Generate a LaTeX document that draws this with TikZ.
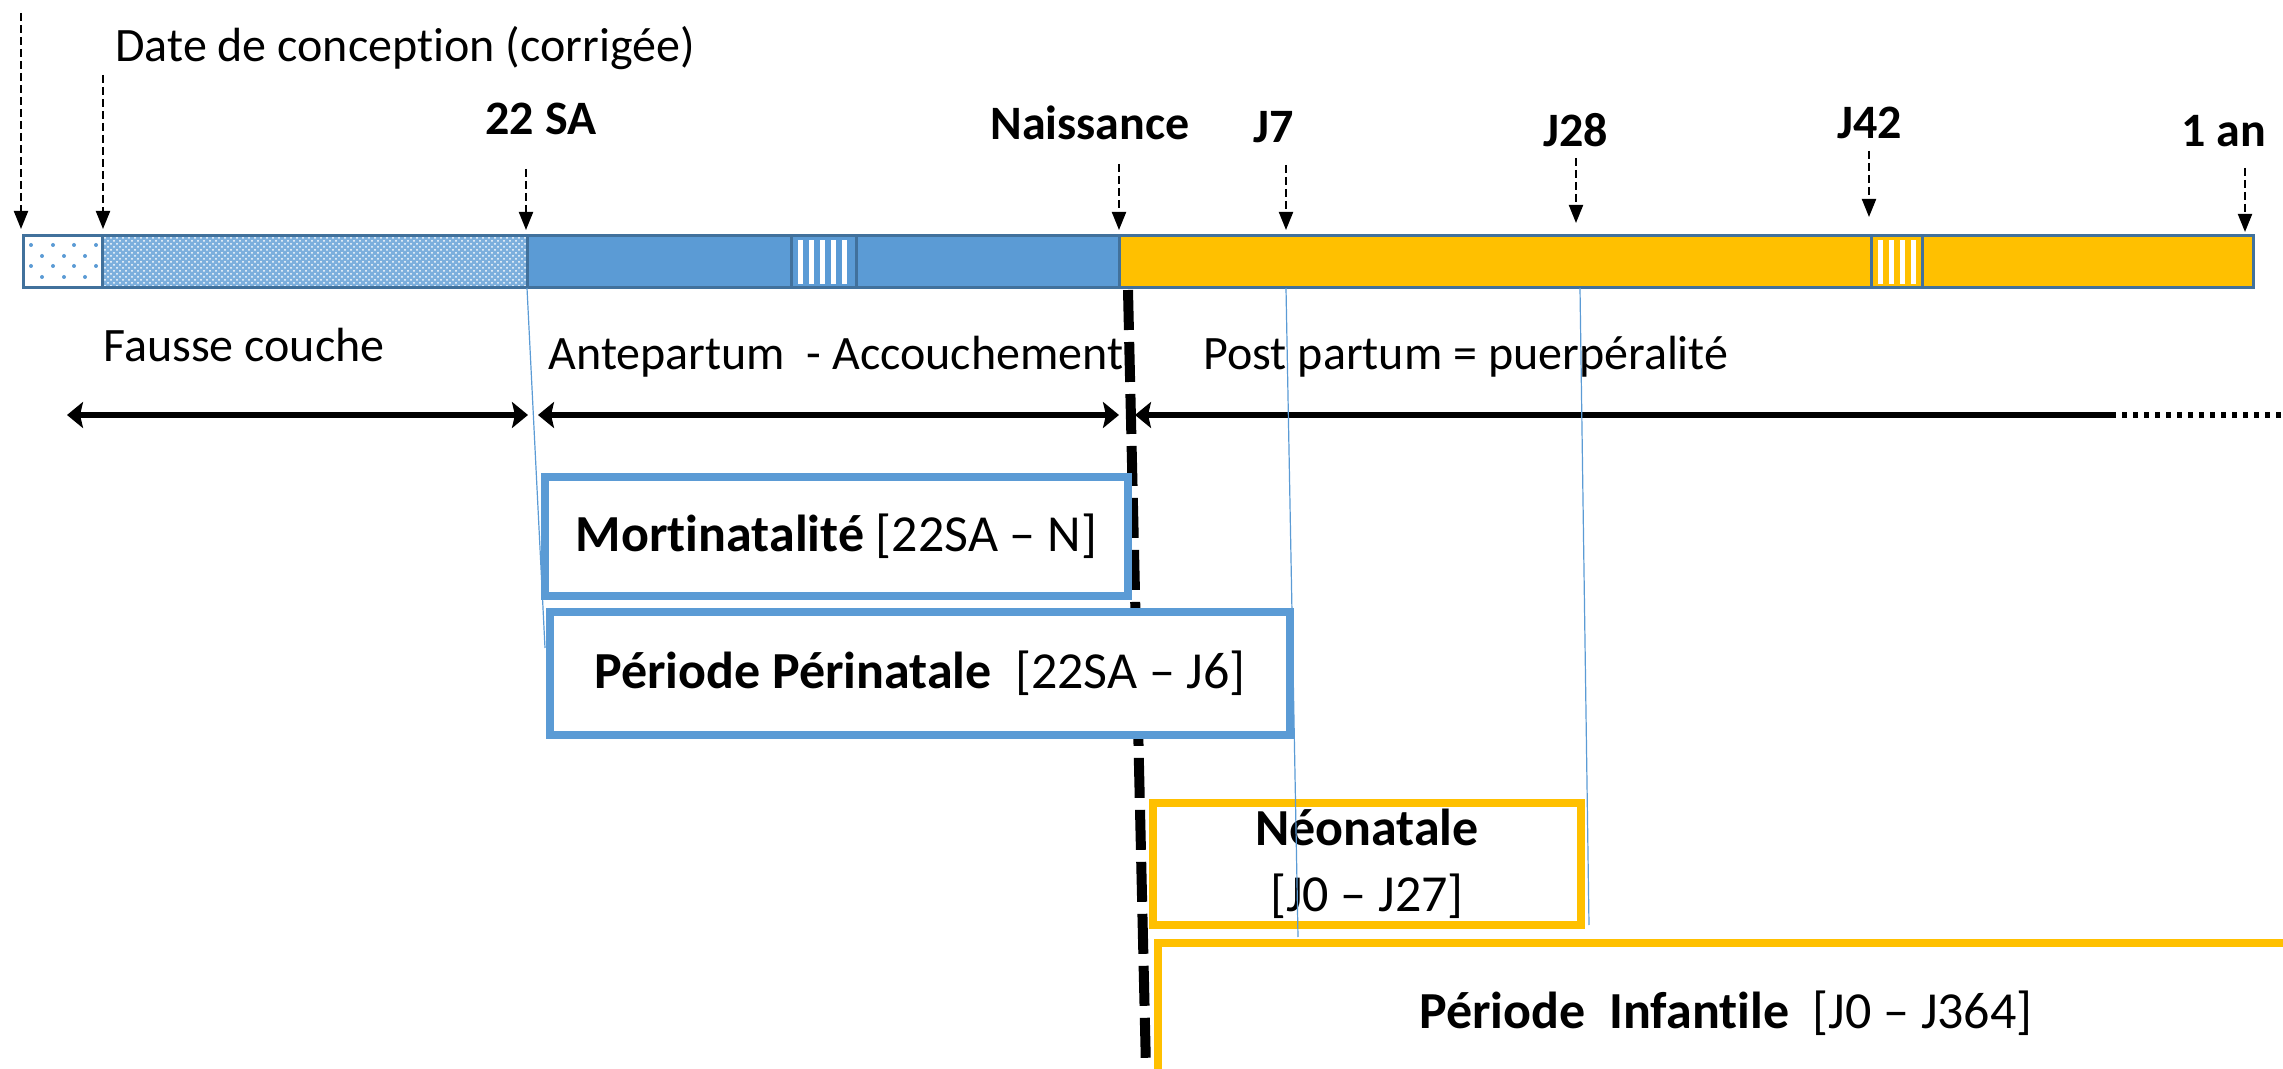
\documentclass[tikz,border=0pt]{standalone}
\usepackage{fontspec}
\setmainfont{Carlito}[Ligatures=NoCommon]
\usetikzlibrary{arrows.meta,patterns}
\definecolor{myblue}{RGB}{91,155,213}
\definecolor{myyellow}{RGB}{255,192,0}
\definecolor{myedge}{RGB}{65,113,156}

\begin{document}
\begin{tikzpicture}[x=0.5pt, y=-0.5pt,
    marker/.style={line width=1pt, dash pattern=on 4pt off 2pt,
        -{Triangle[width=7pt,length=9pt]}},
    datelabel/.style={inner sep=0, font=\fontsize{24}{28}\selectfont\bfseries},
    phaselabel/.style={inner sep=0, font=\fontsize{24}{28}\selectfont},
    span/.style={line width=3pt,
        {Stealth[width=13pt,length=8pt,inset=1.5pt]}-{Stealth[width=13pt,length=8pt,inset=1.5pt]}},
    segment/.style={draw=myedge, line width=1.5pt},
    guide/.style={draw=myblue, line width=0.6pt},
    period/.style={draw, line width=4pt, fill=white, inner sep=0,
        font=\fontsize{26}{33}\selectfont, align=center}]
    \useasboundingbox (0,0) rectangle (2283,1069);
    \clip (0,0) rectangle (2283,1069);

    % Timeline bar
    \draw[segment, fill=white] (23,236) rectangle (102,288);
    \foreach \y in {245,266}
        \foreach \x in {31,53,74,96}
            \fill[myblue] (\x,\y) circle (1pt);
    \foreach \y in {256,277}
        \foreach \x in {42,64,85}
            \fill[myblue] (\x,\y) circle (1pt);
    \fill[myblue!80] (102,236) rectangle (527,288);
    \fill[pattern=crosshatch dots, pattern color=white] (102,236) rectangle (527,288);
    \draw[segment] (102,236) rectangle (527,288);
    \draw[segment, fill=myblue] (527,236) rectangle (791,288);
    \draw[segment, fill=myblue] (791,236) rectangle (856,288);
    \foreach \x in {800,811,...,850}
        \fill[white] (\x-2.5,240) rectangle (\x+2.5,284);
    \draw[segment, fill=myblue] (856,236) rectangle (1119,288);
    \draw[segment, fill=myyellow] (1119,236) rectangle (1871,288);
    \draw[segment, fill=myyellow] (1871,236) rectangle (1922,288);
    \foreach \x in {1880,1891,...,1915}
        \fill[white] (\x-2.5,240) rectangle (\x+2.5,284);
    \draw[segment, fill=myyellow] (1922,236) rectangle (2253,288);

    % Dates
    \node[phaselabel, anchor=base west] (conception) at (115,62) {Date de conception (corrigée)};
    \node[datelabel, anchor=base] (sa22) at (541,135) {22 SA};
    \node[datelabel, anchor=base] (naissance) at (1090,140) {Naissance};
    \node[datelabel, anchor=base] (j7) at (1274,143) {J7};
    \node[datelabel, anchor=base] (j28) at (1576,147) {J28};
    \node[datelabel, anchor=base] (j42) at (1870,139) {J42};
    \node[datelabel, anchor=base] (unan) at (2224,147) {1 an};
    \foreach \name/\x/\top/\tip in {dd/21/13/229, dc/103/75/229, sa/526/169/230,
            na/1119/164/230, jsept/1286/165/230, jvh/1576/158/223,
            jqd/1869/151/217, an/2245/168/232} {
        \coordinate (top\name) at (\x,\top);
        \coordinate (tip\name) at (\x,\tip);
        \draw[marker] (top\name) -- (tip\name);
    }

    % Phases
    \node[phaselabel, anchor=base] (fausse) at (244,362) {Fausse couche};
    \node[phaselabel, anchor=base] (ante) at (836,370) {Antepartum\ \ - Accouchement};
    \node[phaselabel, anchor=base] (post) at (1466,370) {Post partum = puerpéralité};
    \coordinate (fc1) at (67,415);
    \coordinate (fc2) at (528,415);
    \coordinate (ap1) at (538,415);
    \coordinate (ap2) at (1119,415);
    \coordinate (pp1) at (1135,415);
    \coordinate (pp2) at (2111,415);
    \coordinate (pp3) at (2290,415);
    \draw[span] (fc1) -- (fc2);
    \draw[span] (ap1) -- (ap2);
    \draw[line width=3pt, {Stealth[width=13pt,length=8pt,inset=1.5pt]}-] (pp1) -- (pp2);
    \draw[line width=3pt, dash pattern=on 2.5pt off 3pt] (pp2) -- (pp3);

    % Birth
    \coordinate (cut1) at (1128,290);
    \coordinate (cut2) at (1146,1069);
    \draw[line width=5pt, dash pattern=on 20pt off 6pt] (cut1) -- (cut2);

    % Periods
    \node[period, draw=myblue, minimum width=291.5pt, minimum height=59.5pt]
        (mort) at (836.5,536.5) {\textbf{Mortinatalité} [22SA – N]};
    \node[period, draw=myblue, minimum width=370pt, minimum height=61.5pt]
        (perinat) at (920,673.5) {\textbf{Période Périnatale}\ \ [22SA – J6]};
    \node[period, draw=myyellow, minimum width=214pt, minimum height=61pt]
        (neonat) at (1367,864) {\textbf{Néonatale}\\{[J0 – J27]}};
    \node[period, draw=myyellow, minimum width=568pt, minimum height=70pt]
        (infant) at (1726,1013) {\textbf{Période\ \ Infantile}\ \ [J0 – J364]};

    % Guides
    \coordinate (gsa1) at (527,288);
    \coordinate (gsa2) at (545,648);
    \coordinate (gsept1) at (1286,288);
    \coordinate (gsept2) at (1298,937);
    \coordinate (gvh1) at (1580,288);
    \coordinate (gvh2) at (1589,925);
    \draw[guide] (gsa1) -- (gsa2);
    \draw[guide] (gsept1) -- (gsept2);
    \draw[guide] (gvh1) -- (gvh2);
\end{tikzpicture}
\end{document}
